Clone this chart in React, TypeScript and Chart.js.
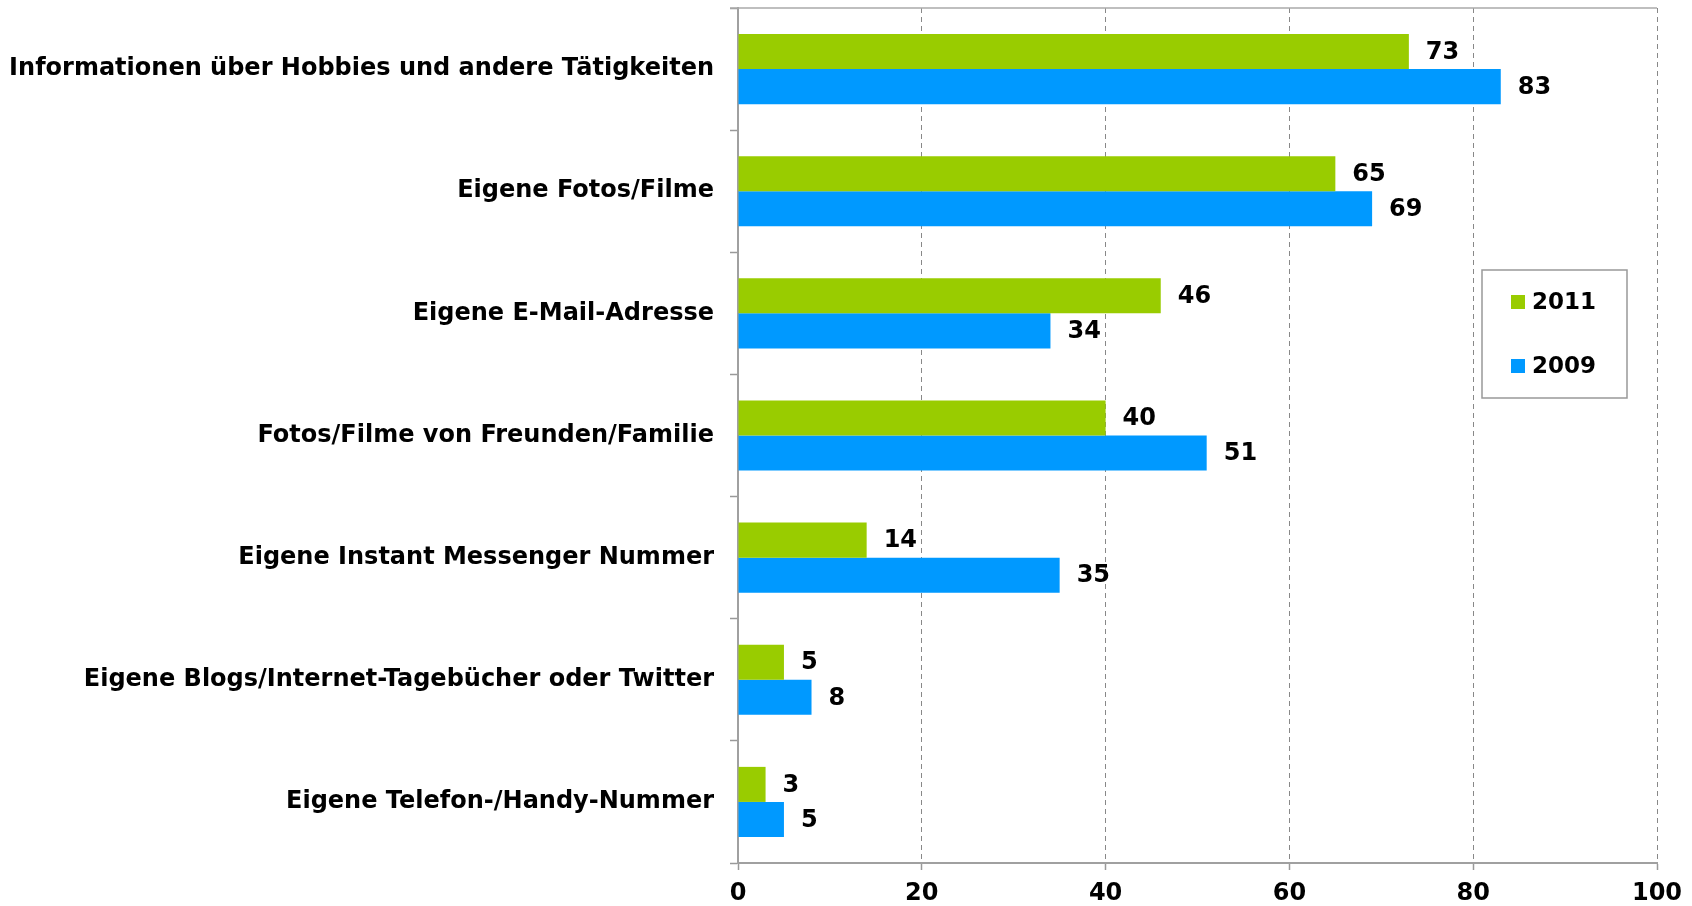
import React, { useEffect, useRef } from "react";
import { Chart, registerables } from "chart.js";

Chart.register(...registerables);

const categories = [
  "Informationen über Hobbies und andere Tätigkeiten",
  "Eigene Fotos/Filme",
  "Eigene E-Mail-Adresse",
  "Fotos/Filme von Freunden/Familie",
  "Eigene Instant Messenger Nummer",
  "Eigene Blogs/Internet-Tagebücher oder Twitter",
  "Eigene Telefon-/Handy-Nummer",
];
const values2011 = [73, 65, 46, 40, 14, 5, 3];
const values2009 = [83, 69, 34, 51, 35, 8, 5];
const seriesNames = ["2011", "2009"];
const xTicks = [0, 20, 40, 60, 80, 100];

const GREEN = "#99CC00";
const BLUE = "#0099FF";
const FONT = "'DejaVu Sans', Verdana, sans-serif";

const dataLabels = {
  id: "dataLabels",
  afterDatasetsDraw(chart: any) {
    const ctx = chart.ctx;
    ctx.save();
    ctx.font = `bold 24px ${FONT}`;
    ctx.fillStyle = "#000";
    ctx.textAlign = "left";
    ctx.textBaseline = "middle";
    chart.data.datasets.forEach((ds: any, di: number) => {
      const meta = chart.getDatasetMeta(di);
      meta.data.forEach((bar: any, i: number) => {
        ctx.fillText(String(ds.data[i]), bar.x + 17, bar.y + 1);
      });
    });
    ctx.restore();
  },
};

const frame = {
  id: "frame",
  afterDraw(chart: any) {
    const { ctx, chartArea } = chart;
    ctx.save();
    ctx.strokeStyle = "#AAAAAA";
    ctx.lineWidth = 1.5;
    ctx.beginPath();
    ctx.moveTo(chartArea.left - 8, chartArea.top);
    ctx.lineTo(chartArea.right, chartArea.top);
    ctx.stroke();

    // legend box
    const bx = chartArea.right - 175;
    const by = chartArea.top + 262;
    const bw = 145;
    const bh = 128;
    ctx.fillStyle = "#fff";
    ctx.fillRect(bx, by, bw, bh);
    ctx.strokeStyle = "#999999";
    ctx.lineWidth = 1.5;
    ctx.strokeRect(bx, by, bw, bh);
    ctx.font = `bold 23px ${FONT}`;
    ctx.textAlign = "left";
    ctx.textBaseline = "middle";
    chart.data.datasets.forEach((ds: any, i: number) => {
      const cy = by + 32 + i * 64;
      ctx.fillStyle = ds.backgroundColor;
      ctx.fillRect(bx + 29, cy - 7, 14, 14);
      ctx.fillStyle = "#000";
      ctx.fillText(ds.label, bx + 50, cy + 1);
    });
    ctx.restore();
  },
};

export default function App() {
  const ref = useRef<HTMLCanvasElement>(null);
  useEffect(() => {
    document.body.style.margin = "0";
    const chart = new Chart(ref.current!, {
      type: "bar",
      data: {
        labels: categories,
        datasets: [
          { label: seriesNames[0], data: values2011, backgroundColor: GREEN, borderWidth: 0 },
          { label: seriesNames[1], data: values2009, backgroundColor: BLUE, borderWidth: 0 },
        ],
      },
      options: {
        indexAxis: "y",
        animation: false,
        responsive: false,
        devicePixelRatio: 1,
        layout: { padding: { top: 8, right: 35, left: 0, bottom: 0 } },
        datasets: { bar: { categoryPercentage: 0.574, barPercentage: 1 } },
        plugins: { legend: { display: false }, tooltip: { enabled: false } },
        scales: {
          x: {
            type: "linear",
            min: 0,
            max: 100,
            afterBuildTicks: (s: any) => {
              s.ticks = xTicks.map((v) => ({ value: v }));
            },
            afterFit: (s: any) => {
              s.height = 43;
              s.paddingLeft = 0;
              s.paddingRight = 0;
            },
            grid: {
              color: "#888888",
              lineWidth: 1,
              drawTicks: true,
              tickLength: 7,
              tickColor: "#999999",
              tickWidth: 1.5,
            },
            border: { display: true, color: "#A0A0A0", width: 2, dash: [5, 4] },
            ticks: {
              color: "#000",
              font: { family: FONT, size: 24, weight: "bold" },
              padding: 9,
              maxRotation: 0,
            },
          },
          y: {
            type: "category",
            afterFit: (s: any) => {
              s.width = 738;
              s.paddingTop = 0;
              s.paddingBottom = 0;
            },
            grid: {
              drawOnChartArea: false,
              drawTicks: true,
              tickLength: 8,
              tickColor: "#999999",
              tickWidth: 1.5,
              offset: true,
            },
            border: { display: true, color: "#A0A0A0", width: 2 },
            ticks: {
              color: "#000",
              font: { family: FONT, size: 24, weight: "bold" },
              padding: 16,
              autoSkip: false,
            },
          },
        },
      },
      plugins: [dataLabels, frame],
    });
    return () => chart.destroy();
  }, []);
  return (
    <div style={{ width: 1692, height: 906, position: "relative" }}>
      <canvas ref={ref} width={1692} height={906} style={{ display: "block" }} />
    </div>
  );
}
